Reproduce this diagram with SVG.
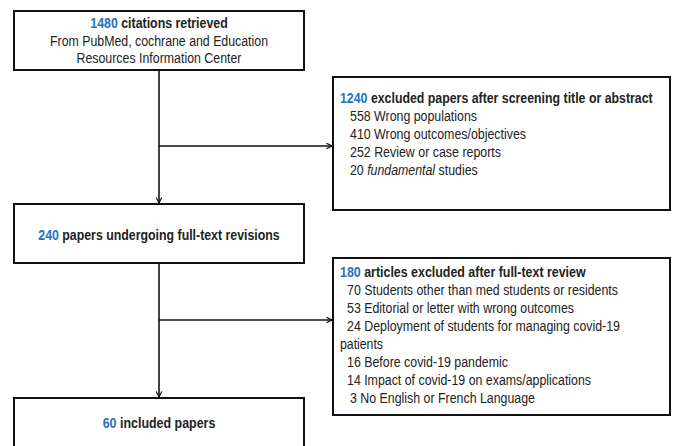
<svg xmlns="http://www.w3.org/2000/svg" width="675" height="446" viewBox="0 0 675 446">
<defs>
<marker id="arr" viewBox="0 0 10 10" refX="9" refY="5" markerWidth="7" markerHeight="7" orient="auto" markerUnits="userSpaceOnUse">
<path d="M1,1 L9,5 L1,9" fill="none" stroke="#111" stroke-width="1.6"/>
</marker>
<style>
.box{fill:#fff;stroke:#111;stroke-width:2}
.t{font-family:"Liberation Sans",Arial,sans-serif;font-size:14px;fill:#222}
.b{font-weight:bold}
.n{fill:#1f72c4;font-weight:bold}
.c{text-anchor:middle}
.ln{stroke:#111;stroke-width:1.6;fill:none}
</style>
</defs>
<rect width="675" height="446" fill="#fff"/>
<g id="connectors">
<line class="ln" x1="159" y1="70" x2="159" y2="203" marker-end="url(#arr)"/>
<line class="ln" x1="159" y1="146" x2="332" y2="146" marker-end="url(#arr)"/>
<line class="ln" x1="159" y1="263" x2="159" y2="397" marker-end="url(#arr)"/>
<line class="ln" x1="159" y1="320" x2="332" y2="320" marker-end="url(#arr)"/>
</g>
<g id="n1">
<rect class="box" x="14" y="11" width="290" height="59"/>
<g transform="translate(159,28) scale(0.884,1)"><text class="t c" x="0" y="0"><tspan class="n">1480</tspan><tspan class="b"> citations retrieved</tspan></text></g>
<text class="t c" x="159" y="46" textLength="218" lengthAdjust="spacingAndGlyphs">From PubMed, cochrane and Education</text>
<text class="t c" x="159" y="63" textLength="165" lengthAdjust="spacingAndGlyphs">Resources Information Center</text>
</g>
<g id="n2">
<rect class="box" x="333" y="77" width="337" height="133"/>
<g transform="translate(340,103) scale(0.882,1)"><text class="t" x="0" y="0"><tspan class="n">1240</tspan><tspan class="b"> excluded papers after screening title or abstract</tspan></text></g>
<text class="t" x="350" y="121" textLength="127" lengthAdjust="spacingAndGlyphs">558 Wrong populations</text>
<text class="t" x="350" y="139" textLength="176" lengthAdjust="spacingAndGlyphs">410 Wrong outcomes/objectives</text>
<text class="t" x="350" y="157" textLength="151" lengthAdjust="spacingAndGlyphs">252 Review or case reports</text>
<g transform="translate(350,175) scale(0.883,1)"><text class="t" x="0" y="0">20 <tspan font-style="italic">fundamental</tspan> studies</text></g>
</g>
<g id="n3">
<rect class="box" x="14" y="204" width="290" height="59"/>
<g transform="translate(159,240) scale(0.883,1)"><text class="t c" x="0" y="0"><tspan class="n">240</tspan><tspan class="b"> papers undergoing full-text revisions</tspan></text></g>
</g>
<g id="n4">
<rect class="box" x="333" y="258" width="337" height="157"/>
<g transform="translate(340,277) scale(0.888,1)"><text class="t" x="0" y="0"><tspan class="n">180</tspan><tspan class="b"> articles excluded after full-text review</tspan></text></g>
<text class="t" x="347" y="295" textLength="271" lengthAdjust="spacingAndGlyphs">70 Students other than med students or residents</text>
<text class="t" x="347" y="313" textLength="227" lengthAdjust="spacingAndGlyphs">53 Editorial or letter with wrong outcomes</text>
<text class="t" x="347" y="331" textLength="273" lengthAdjust="spacingAndGlyphs">24 Deployment of students for managing covid-19</text>
<text class="t" x="340" y="349" textLength="43" lengthAdjust="spacingAndGlyphs">patients</text>
<text class="t" x="347" y="367" textLength="161" lengthAdjust="spacingAndGlyphs">16 Before covid-19 pandemic</text>
<text class="t" x="347" y="385" textLength="244" lengthAdjust="spacingAndGlyphs">14 Impact of covid-19 on exams/applications</text>
<text class="t" x="350" y="403" textLength="185" lengthAdjust="spacingAndGlyphs">3 No English or French Language</text>
</g>
<g id="n5">
<rect class="box" x="14" y="398" width="290" height="60"/>
<g transform="translate(159,428) scale(0.889,1)"><text class="t c" x="0" y="0"><tspan class="n">60</tspan><tspan class="b"> included papers</tspan></text></g>
</g>
</svg>
